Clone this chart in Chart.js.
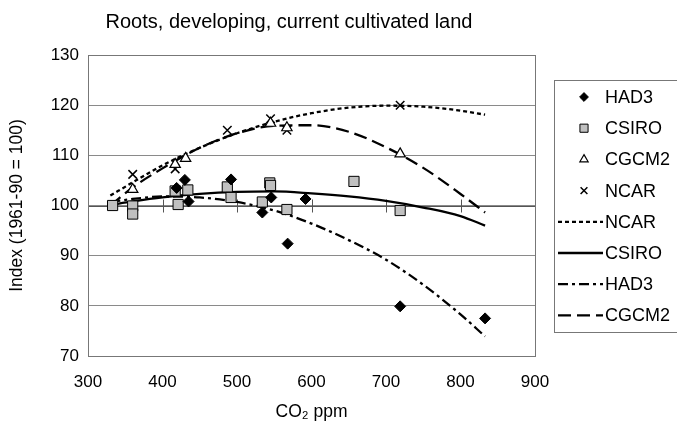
<!DOCTYPE html>
<html><head><meta charset="utf-8">
<script src="https://cdn.jsdelivr.net/npm/chart.js@4.4.0/dist/chart.umd.min.js"></script>
<style>html,body{margin:0;padding:0;background:#fff}</style>
</head><body>
<canvas id="c" width="677" height="430"></canvas>
<script>
const chartTitle = 'Roots, developing, current cultivated land';
const xTitle = 'CO\u2082 ppm';
const yTitle = 'Index (1961-90 = 100)';
const xTickValues = [300, 400, 500, 600, 700, 800, 900];
const yTickValues = [70, 80, 90, 100, 110, 120, 130];

// Scatter points (CO2 ppm, index)
const had3X = [419, 430, 435, 492, 534, 546, 568, 592, 719, 833];
const had3Y = [103.5, 105.1, 100.8, 105.2, 98.6, 101.6, 92.4, 101.3, 79.9, 77.5];
const csiroX = [333, 360, 360, 417, 421, 434, 487, 492, 534, 544, 545, 567, 657, 719];
const csiroY = [100.0, 99.9, 98.3, 102.9, 100.2, 103.1, 103.7, 101.6, 100.7, 104.5, 104.0, 99.2, 104.8, 99.0];
const cgcm2X = [360, 417, 431, 545, 567, 719];
const cgcm2Y = [103.2, 108.2, 109.4, 116.4, 115.5, 110.3];
const ncarX = [360, 417, 487, 545, 567, 719];
const ncarY = [106.2, 107.3, 115.0, 117.3, 115.0, 120.0];

// Trend lines
const trendX = [330, 360, 400, 450, 500, 550, 600, 650, 700, 750, 800, 833];
const ncarTrend  = [102.0, 104.6, 108.0, 111.5, 114.4, 116.7, 118.4, 119.5, 119.9, 119.7, 118.9, 118.1];
const csiroTrend = [100.1, 100.8, 101.6, 102.3, 102.7, 102.8, 102.4, 101.8, 100.9, 99.6, 97.9, 96.0];
const had3Trend  = [100.7, 101.3, 101.8, 101.6, 100.7, 99.0, 96.4, 93.1, 89.2, 84.2, 78.3, 73.9];
const cgcm2Trend = [100.0, 103.6, 107.4, 111.5, 114.4, 115.9, 116.0, 114.7, 111.6, 107.5, 102.3, 98.6];

const pts = (xs, ys) => xs.map((x, i) => ({x: x, y: ys[i]}));
const FONT = "'Liberation Sans', Arial, sans-serif";

function markerDs(label, xs, ys, style, radius, fill, bw) {
  return {label, type: 'scatter', data: pts(xs, ys), showLine: false, pointStyle: style,
    pointRadius: radius, pointHoverRadius: radius, backgroundColor: fill, borderColor: '#000',
    pointBorderWidth: bw, borderWidth: bw, order: 0, legendKind: 'marker'};
}
function lineDs(label, ys, dash) {
  return {label, type: 'scatter', data: pts(trendX, ys), showLine: true, pointRadius: 0,
    pointHoverRadius: 0, borderColor: '#000', backgroundColor: '#000', borderWidth: 2.3,
    borderDash: dash, cubicInterpolationMode: 'monotone', order: 1, legendKind: 'line'};
}

const datasets = [
  markerDs('HAD3', had3X, had3Y, 'rectRot', 5.5, '#000', 1),
  markerDs('CSIRO', csiroX, csiroY, 'rect', 7.2, '#c0c0c0', 1),
  markerDs('CGCM2', cgcm2X, cgcm2Y, 'triangle', 6, '#fff', 1.2),
  markerDs('NCAR', ncarX, ncarY, 'crossRot', 6, '#000', 1.5),
  lineDs('NCAR', ncarTrend, [4, 3]),
  lineDs('CSIRO', csiroTrend, []),
  lineDs('HAD3', had3Trend, [10, 4, 3, 4]),
  lineDs('CGCM2', cgcm2Trend, [13, 6])
];

const decor = {
  id: 'decor',
  beforeDatasetsDraw(chart) {
    const {ctx, chartArea: a, scales: {x, y}} = chart;
    ctx.save();
    const y100 = Math.round(y.getPixelForValue(100)) + 0.5;
    ctx.strokeStyle = '#555';
    ctx.lineWidth = 1;
    ctx.beginPath();
    ctx.moveTo(a.left, y100); ctx.lineTo(a.right, y100);
    x.ticks.forEach(t => {
      const px = Math.round(x.getPixelForValue(t.value)) + 0.5;
      ctx.moveTo(px, y100 - 7); ctx.lineTo(px, y100 + 6);
    });
    ctx.stroke();
    ctx.restore();
  },
  afterDraw(chart) {
    const {ctx, chartArea: a} = chart;
    ctx.save();
    // plot frame
    ctx.strokeStyle = '#777';
    ctx.lineWidth = 1;
    ctx.strokeRect(Math.round(a.left) + 0.5, Math.round(a.top) + 0.5,
      Math.round(a.right - a.left), Math.round(a.bottom - a.top));
    // title
    ctx.fillStyle = '#000';
    ctx.font = '20px ' + FONT;
    ctx.textAlign = 'center';
    ctx.textBaseline = 'middle';
    ctx.fillText(chartTitle, 289, 22);
    // legend
    const lx = 554.5, ly = 80.5, lh = 252;
    ctx.strokeStyle = '#777';
    ctx.strokeRect(lx, ly, 200, lh);
    ctx.font = '18px ' + FONT;
    ctx.textAlign = 'left';
    chart.data.datasets.forEach((ds, i) => {
      const cy = 97 + i * 31.2;
      if (ds.legendKind === 'marker') {
        ctx.fillStyle = ds.backgroundColor; ctx.strokeStyle = '#000';
        ctx.lineWidth = ds.pointBorderWidth;
        Chart.helpers.drawPoint(ctx, {pointStyle: ds.pointStyle, radius: ds.pointRadius * 0.8,
          borderWidth: ds.pointBorderWidth}, 584, cy);
      } else {
        ctx.strokeStyle = '#000'; ctx.lineWidth = 2.3;
        ctx.setLineDash(ds.borderDash);
        ctx.beginPath(); ctx.moveTo(558, cy); ctx.lineTo(603, cy); ctx.stroke();
        ctx.setLineDash([]);
      }
      ctx.fillStyle = '#000';
      ctx.fillText(ds.label, 605, cy + 1);
    });
    ctx.restore();
  }
};

new Chart(document.getElementById('c'), {
  type: 'scatter',
  data: {datasets},
  options: {
    responsive: false,
    animation: false,
    devicePixelRatio: 1,
    layout: {padding: {left: 0, right: 142, top: 55, bottom: 0}},
    plugins: {legend: {display: false}, title: {display: false}, tooltip: {enabled: false}},
    scales: {
      x: {
        type: 'linear', min: 300, max: 900,
        afterBuildTicks: s => { s.ticks = xTickValues.map(v => ({value: v})); },
        afterFit: s => { s.height = 74; },
        grid: {display: false, drawTicks: false},
        border: {display: false},
        ticks: {color: '#000', padding: 16, font: {family: FONT, size: 17}, maxRotation: 0},
        title: {display: true, text: xTitle, color: '#000', font: {family: FONT, size: 17.5}, padding: {top: 0, bottom: 7}}
      },
      y: {
        type: 'linear', min: 70, max: 130,
        afterBuildTicks: s => { s.ticks = yTickValues.map(v => ({value: v})); },
        afterFit: s => { s.width = 88; },
        grid: {color: '#8a8a8a', lineWidth: 1, drawTicks: false},
        border: {display: false},
        ticks: {color: '#000', padding: 9, font: {family: FONT, size: 17}},
        title: {display: true, text: yTitle, color: '#000', font: {family: FONT, size: 17.5}, padding: {top: 7, bottom: 0}}
      }
    }
  },
  plugins: [decor]
});
</script>
</body></html>
